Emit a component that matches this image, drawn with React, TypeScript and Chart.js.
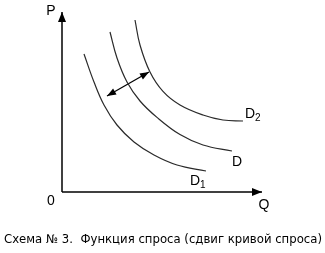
import React, { useEffect, useRef } from "react";
import { Chart, registerables } from "chart.js";

Chart.register(...registerables);

// Demand curves (Q, P)
const curveD1: [number, number][] = [
  [11, 69], [16, 55], [21, 43.5], [27.5, 33.5], [36, 25], [46, 18.5], [57.5, 13.5], [72, 10.5],
];
const curveD: [number, number][] = [
  [24, 80], [27.5, 67], [32.5, 55], [39, 45.5], [47.5, 37.3], [59, 28.7], [70.5, 23.5], [85, 20.5],
];
const curveD2: [number, number][] = [
  [36.5, 86], [39, 73.5], [44, 60], [50.5, 50.3], [59, 43.5], [70.5, 38.5], [80.5, 36], [90.5, 35.5],
];
const shiftArrow: [number, number][] = [[22.5, 48], [43.5, 60]];
const axisP: [number, number][] = [[0, 0], [0, 90]];
const axisQ: [number, number][] = [[0, 0], [100, 0]];

const curveLabels = [
  { main: "D", sub: "2", q: 91.5, p: 39 },
  { main: "D", sub: "", q: 85, p: 15 },
  { main: "D", sub: "1", q: 64, p: 5.5 },
];
const axisLabels = [
  { text: "P", q: -5.5, p: 90.5 },
  { text: "0", q: -5.5, p: -4.5 },
  { text: "Q", q: 101, p: -6.5 },
];
const caption = "Схема № 3.  Функция спроса (сдвиг кривой спроса)";

const toXY = (a: [number, number][]) => a.map(([x, y]) => ({ x, y }));

function arrowHead(ctx: CanvasRenderingContext2D, fx: number, fy: number, tx: number, ty: number, len: number, half: number) {
  const a = Math.atan2(ty - fy, tx - fx);
  const bx = tx - len * Math.cos(a);
  const by = ty - len * Math.sin(a);
  ctx.beginPath();
  ctx.moveTo(tx, ty);
  ctx.lineTo(bx + half * Math.sin(a), by - half * Math.cos(a));
  ctx.lineTo(bx - half * Math.sin(a), by + half * Math.cos(a));
  ctx.closePath();
  ctx.fill();
}

const decorPlugin = {
  id: "decor",
  afterDraw(chart: any) {
    const ctx: CanvasRenderingContext2D = chart.ctx;
    const xs = chart.scales.x;
    const ys = chart.scales.y;
    const px = (v: number) => xs.getPixelForValue(v);
    const py = (v: number) => ys.getPixelForValue(v);
    ctx.save();
    ctx.fillStyle = "#000";
    // axis arrowheads
    arrowHead(ctx, px(axisP[0][0]), py(axisP[0][1]), px(axisP[1][0]), py(axisP[1][1]), 10, 4);
    arrowHead(ctx, px(axisQ[0][0]), py(axisQ[0][1]), px(axisQ[1][0]), py(axisQ[1][1]), 10, 4);
    // shift arrow heads
    const [s0, s1] = shiftArrow;
    arrowHead(ctx, px(s1[0]), py(s1[1]), px(s0[0]), py(s0[1]), 9, 3.5);
    arrowHead(ctx, px(s0[0]), py(s0[1]), px(s1[0]), py(s1[1]), 9, 3.5);

    ctx.textBaseline = "middle";
    ctx.font = "14px 'Liberation Sans', sans-serif";
    ctx.textAlign = "center";
    for (const l of axisLabels) ctx.fillText(l.text, px(l.q), py(l.p));
    ctx.textAlign = "left";
    for (const l of curveLabels) {
      ctx.font = "14px 'Liberation Sans', sans-serif";
      const x = px(l.q);
      const y = py(l.p);
      ctx.fillText(l.main, x, y);
      const w = ctx.measureText(l.main).width;
      if (l.sub) {
        ctx.font = "10px 'Liberation Sans', sans-serif";
        ctx.fillText(l.sub, x + w, y + 4);
      }
    }
    ctx.font = "12px 'DejaVu Sans', sans-serif";
    const w0 = ctx.measureText(caption).width;
    const size = (12 * 318) / w0;
    ctx.font = `${size.toFixed(2)}px 'DejaVu Sans', sans-serif`;
    ctx.textAlign = "center";
    ctx.fillText(caption, 163, 240);
    ctx.restore();
  },
};

export default function App() {
  const ref = useRef<HTMLCanvasElement>(null);
  useEffect(() => {
    if (!ref.current) return;
    const curveStyle = {
      borderColor: "#2a2a2a",
      borderWidth: 1.2,
      pointRadius: 0,
      tension: 0.4,
      fill: false,
      clip: false as any,
    };
    const chart = new Chart(ref.current, {
      type: "line",
      data: {
        datasets: [
          { label: "P axis", data: toXY(axisP), borderColor: "#000", borderWidth: 1.5, pointRadius: 0, clip: false as any },
          { label: "Q axis", data: toXY(axisQ), borderColor: "#000", borderWidth: 1.5, pointRadius: 0, clip: false as any },
          { label: "D1", data: toXY(curveD1), ...curveStyle },
          { label: "D", data: toXY(curveD), ...curveStyle },
          { label: "D2", data: toXY(curveD2), ...curveStyle },
          { label: "shift", data: toXY(shiftArrow), borderColor: "#000", borderWidth: 1.2, pointRadius: 0, clip: false as any },
        ],
      },
      options: {
        animation: false,
        responsive: true,
        maintainAspectRatio: false,
        layout: { padding: { left: 62, right: 63, top: 12, bottom: 61 } },
        scales: {
          x: { type: "linear", min: 0, max: 100, display: false },
          y: { type: "linear", min: 0, max: 90, display: false },
        },
        plugins: { legend: { display: false }, tooltip: { enabled: false }, title: { display: false } },
      },
      plugins: [decorPlugin],
    });
    return () => chart.destroy();
  }, []);
  return (
    <div style={{ position: "fixed", left: 0, top: 0, width: 325, height: 253, background: "#fff" }}>
      <canvas ref={ref} />
    </div>
  );
}
